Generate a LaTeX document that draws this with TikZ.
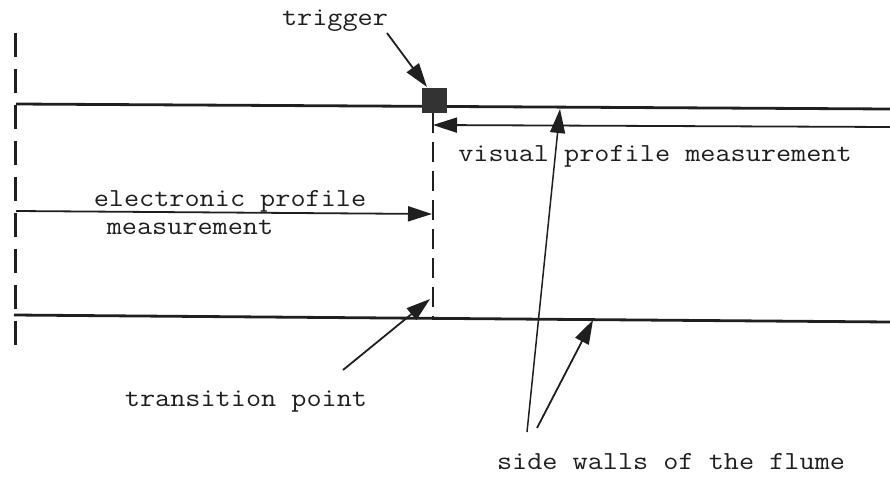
\documentclass[tikz,border=0pt]{standalone}
\usepackage{fontspec}
\usepackage{graphicx}
\usetikzlibrary{arrows.meta}
\newcommand{\wideT}[1]{\scalebox{1.13}[1]{#1}}
\begin{document}
\begin{tikzpicture}[x=1pt,y=-1pt,
  wall/.style={line width=2.8pt,color=black!88},
  frontdash/.style={line width=3pt,color=black!88,dash pattern=on 24pt off 12pt},
  transdash/.style={line width=1.4pt,color=black!88,dash pattern=on 20pt off 9pt},
  ptr/.style={line width=1.8pt,color=black!88,-{Triangle[length=24pt,width=15pt]}},
  lbl/.style={font=\ttfamily\addfontfeatures{FakeBold=0.8}\fontsize{26}{30}\selectfont,anchor=base,inner sep=0pt,text=black!88},
  trig/.style={fill=black!80,draw=black!80,minimum size=24pt,inner sep=0pt}]
\useasboundingbox (0,0) rectangle (890,477);
% geometry coordinates
\coordinate (dl1) at (15,33);
\coordinate (dl2) at (15,355);
\coordinate (tw1) at (16,104);
\coordinate (tw2) at (890,109);
\coordinate (bw1) at (14,315);
\coordinate (bw2) at (890,322);
\coordinate (tr1) at (433,113);
\coordinate (tr2) at (433,318);
% walls and measuring lines
\draw[frontdash] (dl1) -- (dl2);
\draw[wall] (tw1) -- (tw2);
\draw[wall] (bw1) -- (bw2);
\draw[transdash] (tr1) -- (tr2);
\node[trig] (trigbox) at (434,100) {};
% labels
\node[lbl] (ltrig) at (335,25) {\wideT{trigger}};
\node[lbl] (lelec) at (230,206) {\wideT{electronic profile}};
\node[lbl] (lmeas) at (190,234) {\wideT{measurement}};
\node[lbl] (lvis) at (655,161) {\wideT{visual profile measurement}};
\node[lbl] (ltrans) at (246,406) {\wideT{transition point}};
\node[lbl] (lside) at (671,469) {\wideT{side walls of the flume}};
% arrow end points
\coordinate (a1s) at (387,33);
\coordinate (a1e) at (427,87);
\coordinate (vs) at (890,127);
\coordinate (ve) at (433,125);
\coordinate (es) at (16,211);
\coordinate (ee) at (432,214);
\coordinate (ts) at (343,370);
\coordinate (te) at (430,299);
\coordinate (s1s) at (527,432);
\coordinate (s1e) at (560,109);
\coordinate (s2s) at (537,428);
\coordinate (s2e) at (593,320);
% arrows
\draw[ptr] (a1s) -- (a1e);
\draw[ptr] (vs) -- (ve);
\draw[ptr] (es) -- (ee);
\draw[ptr] (ts) -- (te);
\draw[ptr,line width=1.5pt] (s1s) -- (s1e);
\draw[ptr] (s2s) -- (s2e);
\end{tikzpicture}
\end{document}
